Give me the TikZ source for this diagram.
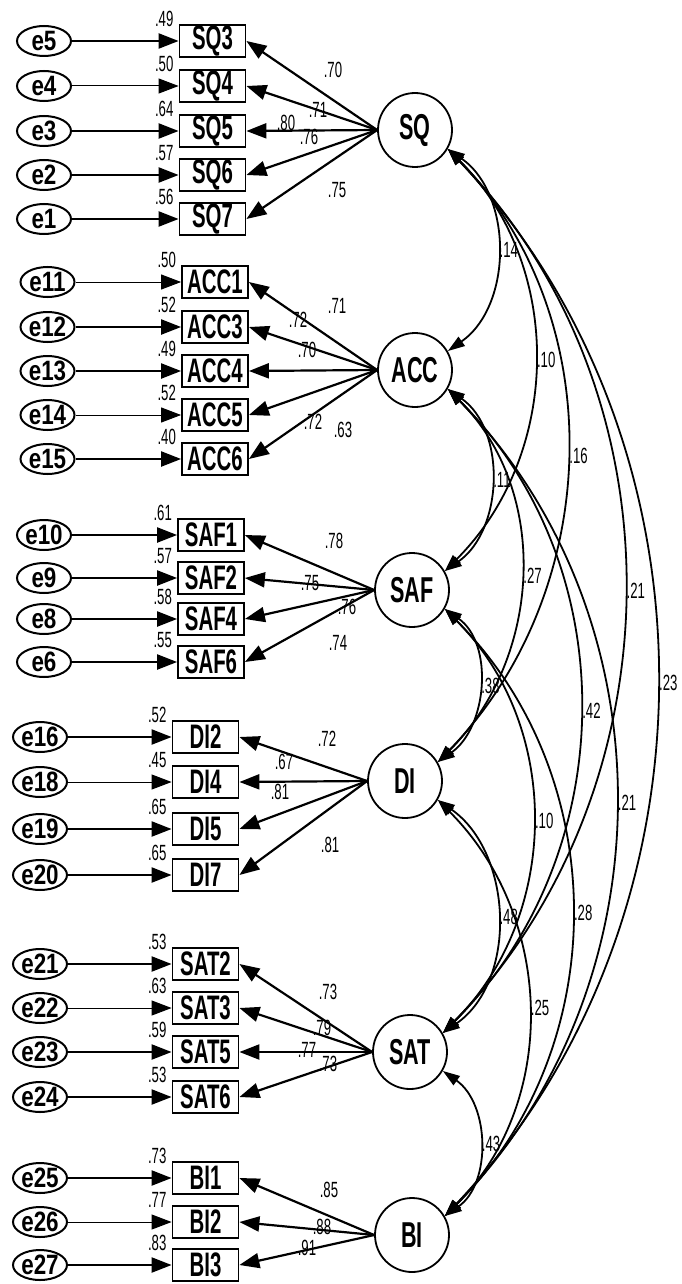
\documentclass[tikz,border=0pt]{standalone}
\usepackage{fontspec}
\setmainfont{Liberation Sans}
\newfontfamily\cf[FakeStretch=0.6]{Liberation Sans}
\newfontfamily\ef[FakeStretch=0.8]{Liberation Sans}
\usetikzlibrary{arrows.meta,shapes.geometric}
\tikzset{
  lat/.style={circle, draw, line width=1.8pt, minimum size=74pt, inner sep=0pt, font=\cf\bfseries\fontsize{36}{38}\selectfont},
  obs/.style={rectangle, draw, line width=1.8pt, minimum width=66pt, minimum height=32pt, inner sep=0pt, font=\cf\bfseries\fontsize{34}{36}\selectfont},
  err/.style={ellipse, draw, line width=2pt, minimum width=54pt, minimum height=30pt, inner sep=0pt, font=\ef\bfseries\fontsize{28}{30}\selectfont},
  lab/.style={font=\cf\fontsize{22}{24}\selectfont, inner sep=0pt},
  arr/.style={-{Triangle[length=20pt,width=15pt]}, line width=2.2pt},
  thinarr/.style={-{Triangle[length=20pt,width=15pt]}, line width=1pt},
  loadarr/.style={-{Triangle[length=20pt,width=15pt]}, line width=2.2pt},
  cov/.style={{Triangle[length=17pt,width=11pt]}-{Triangle[length=17pt,width=11pt]}, line width=1.8pt},
}
% #1 latent, #2 box, #3 error, #4 box x, #5 error x, #6 y, #7 smc, #8 error arrow style
\newcommand\myind[8]{%
  \node[obs] (#2) at (#4,#6) {#2};
  \node[err] (#3) at (#5,#6) {#3};
  \node[lab,anchor=south east] (s#2) at ([xshift=-5pt,yshift=-3pt]#2.north west) {#7};
  \draw[#8] (#3) -- (#2);
  \draw[loadarr] (#1.west) -- (#2.east);
}
% covariance arc: #1 upper, #2 lower, #3 dx, #4 dy, #5 label
\newcommand\mycov[5]{%
  \draw[cov] (#1.-30) .. controls +(#3,#4) and +(#3,-#4) .. node[lab,right=2pt] {#5} (#2.30);
}
\begin{document}
\begin{tikzpicture}[x=1pt,y=-1pt]
\useasboundingbox (0,0) rectangle (681,1284);
% latent factors
\node[lat] (SQ)  at (415,130)  {SQ};
\node[lat] (ACC) at (415,370)  {ACC};
\node[lat] (SAF) at (412,590)  {SAF};
\node[lat] (DI)  at (405,781)  {DI};
\node[lat] (SAT) at (410,1052) {SAT};
\node[lat] (BI)  at (412,1235) {BI};

% SQ block
\myind{SQ}{SQ3}{e5}{212.5}{44}{41}{.49}{arr}
\myind{SQ}{SQ4}{e4}{212.5}{44}{86}{.50}{thinarr}
\myind{SQ}{SQ5}{e3}{212.5}{44}{131}{.64}{arr}
\myind{SQ}{SQ6}{e2}{212.5}{44}{175}{.57}{arr}
\myind{SQ}{SQ7}{e1}{212.5}{44}{219}{.56}{arr}
\node[lab] (lSQ3) at (333,70)  {.70};
\node[lab] (lSQ4) at (318,110) {.71};
\node[lab] (lSQ5) at (286,123) {.80};
\node[lab] (lSQ6) at (309,137) {.76};
\node[lab] (lSQ7) at (337,190) {.75};

% ACC block
\myind{ACC}{ACC1}{e11}{215}{47.5}{282}{.50}{thinarr}
\myind{ACC}{ACC3}{e12}{215}{47.5}{327}{.52}{arr}
\myind{ACC}{ACC4}{e13}{215}{47.5}{371}{.49}{arr}
\myind{ACC}{ACC5}{e14}{215}{47.5}{415}{.52}{thinarr}
\myind{ACC}{ACC6}{e15}{215}{47.5}{459}{.40}{arr}
\node[lab] (lACC1) at (337,306) {.71};
\node[lab] (lACC3) at (298,320) {.72};
\node[lab] (lACC4) at (307,350) {.70};
\node[lab] (lACC5) at (313,422) {.72};
\node[lab] (lACC6) at (343,430) {.63};

% SAF block
\myind{SAF}{SAF1}{e10}{211}{44}{535}{.61}{arr}
\myind{SAF}{SAF2}{e9}{211}{44}{578}{.57}{arr}
\myind{SAF}{SAF4}{e8}{211}{44}{619}{.58}{arr}
\myind{SAF}{SAF6}{e6}{211}{44}{662}{.55}{arr}
\node[lab] (lSAF1) at (334,541) {.78};
\node[lab] (lSAF2) at (310,583) {.75};
\node[lab] (lSAF4) at (347,607) {.76};
\node[lab] (lSAF6) at (338,643) {.74};

% DI block
\myind{DI}{DI2}{e16}{205.5}{40}{737}{.52}{arr}
\myind{DI}{DI4}{e18}{205.5}{40}{782}{.45}{thinarr}
\myind{DI}{DI5}{e19}{205.5}{40}{829}{.65}{arr}
\myind{DI}{DI7}{e20}{205.5}{40}{875}{.65}{arr}
\node[lab] (lDI2) at (327,739) {.72};
\node[lab] (lDI4) at (284,762) {.67};
\node[lab] (lDI5) at (280,792) {.81};
\node[lab] (lDI7) at (330,845) {.81};

% SAT block
\myind{SAT}{SAT2}{e21}{205.5}{40}{964}{.53}{arr}
\myind{SAT}{SAT3}{e22}{205.5}{40}{1008}{.63}{thinarr}
\myind{SAT}{SAT5}{e23}{205.5}{40}{1052}{.59}{arr}
\myind{SAT}{SAT6}{e24}{205.5}{40}{1097}{.53}{arr}
\node[lab] (lSAT2) at (328,992)  {.73};
\node[lab] (lSAT3) at (322,1028) {.79};
\node[lab] (lSAT5) at (307,1050) {.77};
\node[lab] (lSAT6) at (328,1064) {.73};

% BI block
\myind{BI}{BI1}{e25}{205.5}{40}{1178}{.73}{arr}
\myind{BI}{BI2}{e26}{205.5}{40}{1222}{.77}{thinarr}
\myind{BI}{BI3}{e27}{205.5}{40}{1265}{.83}{arr}
\node[lab] (lBI1) at (329,1190) {.85};
\node[lab] (lBI2) at (322,1227) {.88};
\node[lab] (lBI3) at (307,1248) {.91};

% covariances
\mycov{SQ}{ACC}{65.2}{45.6}{.14}
\mycov{SQ}{SAF}{117.1}{117.1}{.10}
\mycov{SQ}{DI}{165}{170.1}{.16}
\mycov{SQ}{SAT}{238}{245.1}{.21}
\mycov{SQ}{BI}{280}{295.8}{.23}
\mycov{ACC}{SAF}{58.7}{41.1}{.11}
\mycov{ACC}{DI}{103.6}{103.6}{.27}
\mycov{ACC}{SAT}{178.7}{178.7}{.42}
\mycov{ACC}{BI}{225}{229.4}{.21}
\mycov{SAF}{DI}{49.4}{34.6}{.38}
\mycov{SAF}{SAT}{117.7}{117.7}{.10}
\mycov{SAF}{BI}{168.4}{168.4}{.28}
\mycov{DI}{SAT}{75.1}{52.5}{.48}
\mycov{DI}{BI}{115.5}{115.5}{.25}
\mycov{SAT}{BI}{46.9}{32.8}{.43}
\end{tikzpicture}
\end{document}
